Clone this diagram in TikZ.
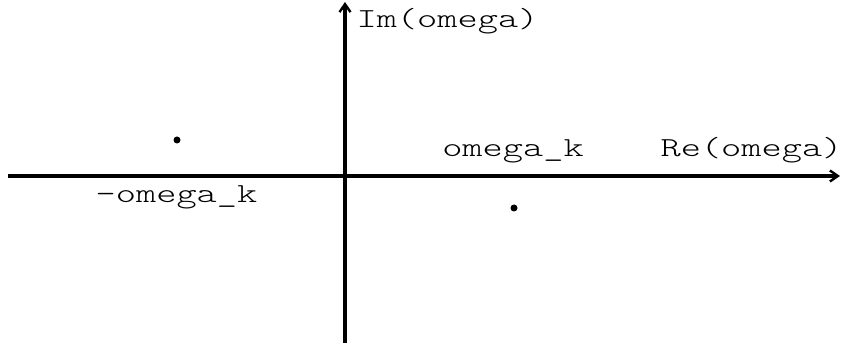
\documentclass[tikz,border=0pt]{standalone}
\usepackage{fontspec}
\setmonofont[FakeStretch=1.4]{Latin Modern Mono Light}
\usetikzlibrary{arrows.meta}
\begin{document}
\begin{tikzpicture}[x=1pt,y=1pt,
  axis/.style={line width=3.4pt,-{Straight Barb[length=8pt,width=11pt,line width=2.4pt]}},
  lbl/.style={font=\ttfamily\fontsize{27.5}{27.5}\selectfont,anchor=base,inner sep=0pt},
  pt/.style={circle,fill=black,inner sep=0pt,minimum size=7pt}]
\useasboundingbox (0,0) rectangle (849,348);
\coordinate (xs) at (8,172);
\coordinate (xe) at (840,172);
\coordinate (ys) at (345,5);
\coordinate (ye) at (345,346);
\draw[axis] (xs) -- (xe);
\draw[axis] (ys) -- (ye);
\node[lbl] (im) at (447.5,320) {Im(omega)};
\node[lbl] (re) at (751.5,191) {Re(omega)};
\node[lbl] (wk) at (513,191) {omega\_k};
\node[lbl] (mwk) at (176.5,145) {-omega\_k};
\node[pt] (p1) at (177,208) {};
\node[pt] (p2) at (514,140) {};
\end{tikzpicture}
\end{document}
